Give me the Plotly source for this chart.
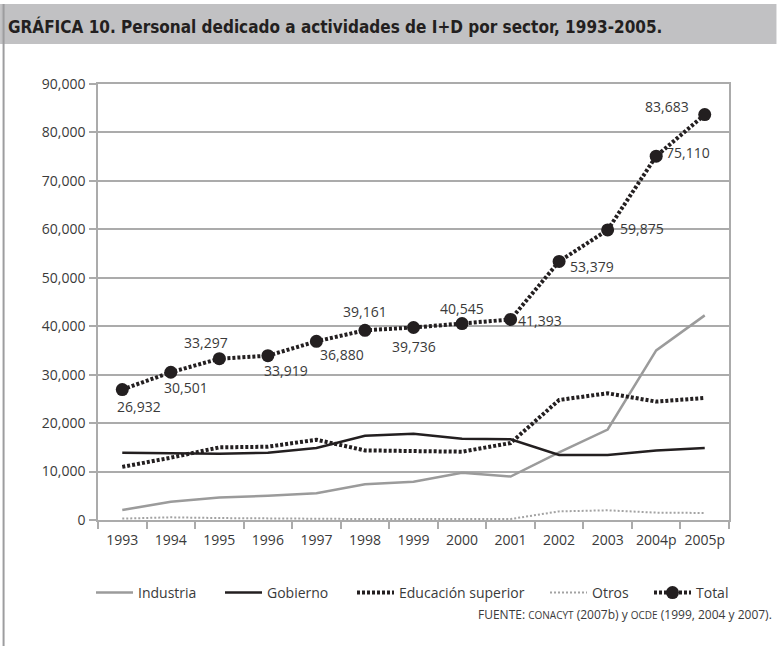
import plotly.graph_objects as go

# Personal dedicado a I+D por sector (personas), 1993-2005
years = ["1993", "1994", "1995", "1996", "1997", "1998", "1999",
         "2000", "2001", "2002", "2003", "2004p", "2005p"]
industria = [2050, 3780, 4660, 5010, 5540, 7390, 7880, 9730, 8970, 13960, 18680, 35000, 42240]
gobierno = [13900, 13850, 13700, 13900, 14870, 17400, 17800, 16780, 16650, 13430, 13430, 14370, 14870]
educacion = [10960, 12870, 14990, 15130, 16570, 14370, 14230, 14100, 15890, 24780, 26160, 24440, 25190]
otros = [290, 550, 400, 290, 200, 200, 200, 200, 200, 1780, 2000, 1520, 1450]
total = [26932, 30501, 33297, 33919, 36880, 39161, 39736, 40545, 41393, 53379, 59875, 75110, 83683]

y_ticks = [0, 10000, 20000, 30000, 40000, 50000, 60000, 70000, 80000, 90000]

# label offsets (px) around each Total point: (dx, dy), dy positive = downward
label_offsets = [(17, 17), (15, 15), (-13, -16), (18, 15), (26, 13), (0, -19), (0, 19),
                 (0, -15), (29, 1), (33, 5), (34, -1), (32, -4), (-38, -8)]

W, H = 777, 646
L, R, T, B = 98, 47.5, 84, 126
PW, PH = W - L - R, H - T - B

def px_x(px):
    return (px - L) / PW

def px_y(py):
    return (H - B - py) / PH

FONT = "Open Sans, DejaVu Sans, sans-serif"
TXT = "#3a3a3a"
GRID = "#ababab"
BLACK = "#231f20"

fig = go.Figure()

fig.add_trace(go.Scatter(x=years, y=industria, name="Industria", mode="lines",
                         line=dict(color="#9b9b9b", width=2.5), legend="legend"))
fig.add_trace(go.Scatter(x=years, y=gobierno, name="Gobierno", mode="lines",
                         line=dict(color=BLACK, width=2.5), legend="legend2"))
fig.add_trace(go.Scatter(x=years, y=educacion, name="Educación superior", mode="lines",
                         line=dict(color=BLACK, width=4, dash="3px,2px"), legend="legend3"))
fig.add_trace(go.Scatter(x=years, y=otros, name="Otros", mode="lines",
                         line=dict(color="#a3a3a3", width=2, dash="2px,2px"), legend="legend4"))
fig.add_trace(go.Scatter(x=years, y=total, name="Total", mode="lines+markers",
                         line=dict(color=BLACK, width=4, dash="3px,2px"),
                         marker=dict(color=BLACK, size=13), legend="legend5"))

# value labels on the Total series (x given as category index)
for i, (v, (dx, dy)) in enumerate(zip(total, label_offsets)):
    fig.add_annotation(x=i, y=v, text=f"{v:,}", showarrow=False,
                       xanchor="center", yanchor="middle", xshift=dx, yshift=-dy,
                       font=dict(family=FONT, size=14, color=TXT))

# title band and left frame rule
fig.add_shape(type="rect", xref="paper", yref="paper",
              x0=px_x(0), x1=px_x(W), y0=px_y(4), y1=px_y(44),
              fillcolor="#c1c1c3", line=dict(width=0), layer="below")
fig.add_shape(type="line", xref="paper", yref="paper",
              x0=px_x(3.5), x1=px_x(3.5), y0=px_y(4), y1=px_y(H),
              line=dict(color="#9d9d9f", width=2))

fig.add_annotation(xref="paper", yref="paper", x=px_x(6), y=px_y(27),
                   xanchor="left", yanchor="middle", showarrow=False,
                   text="<b>GRÁFICA 10. Personal dedicado a actividades de I+D por sector, 1993-2005.</b>",
                   font=dict(family="DejaVu Sans Condensed, Open Sans, sans-serif",
                             size=17, color="#231f20"))

fig.add_annotation(xref="paper", yref="paper", x=px_x(775), y=px_y(614),
                   xanchor="right", yanchor="middle", showarrow=False,
                   text="FUENTE: <span style='font-size:10px'>CONACYT</span> (2007b) y "
                        "<span style='font-size:10px'>OCDE</span> (1999, 2004 y 2007).",
                   font=dict(family=FONT, size=12, color=TXT))

legend_x = [91, 220, 352, 545, 649]
legend_names = ["legend", "legend2", "legend3", "legend4", "legend5"]
legend_cfg = {}
for name, lx in zip(legend_names, legend_x):
    legend_cfg[name] = dict(x=lx / W, y=1 - 593 / H, xref="container", yref="container",
                            xanchor="left", yanchor="middle", orientation="h",
                            bgcolor="rgba(0,0,0,0)", borderwidth=0,
                            font=dict(family=FONT, size=14, color=TXT),
                            itemwidth=37)

fig.update_layout(
    width=W, height=H,
    margin=dict(l=L, r=R, t=T, b=B, autoexpand=False),
    paper_bgcolor="white", plot_bgcolor="white",
    showlegend=True,
    **legend_cfg,
    xaxis=dict(type="category", range=[-0.5, 12.5], showgrid=False,
               showline=True, linecolor=GRID, linewidth=1.5,
               ticks="outside", tickson="boundaries", ticklen=7, tickcolor=GRID,
               tickwidth=1.5, mirror=True, tickangle=0, ticklabelstandoff=6,
               tickfont=dict(family=FONT, size=14, color=TXT)),
    yaxis=dict(range=[0, 90000], tickvals=y_ticks, tickformat=",d",
               showgrid=True, gridcolor=GRID, gridwidth=1.5, zeroline=False,
               showline=True, linecolor=GRID, linewidth=1.5, mirror=True,
               ticks="outside", ticklen=7, tickcolor=GRID, tickwidth=1.5,
               ticklabelstandoff=1,
               tickfont=dict(family=FONT, size=14, color=TXT)),
)

fig.write_html("out.html")
